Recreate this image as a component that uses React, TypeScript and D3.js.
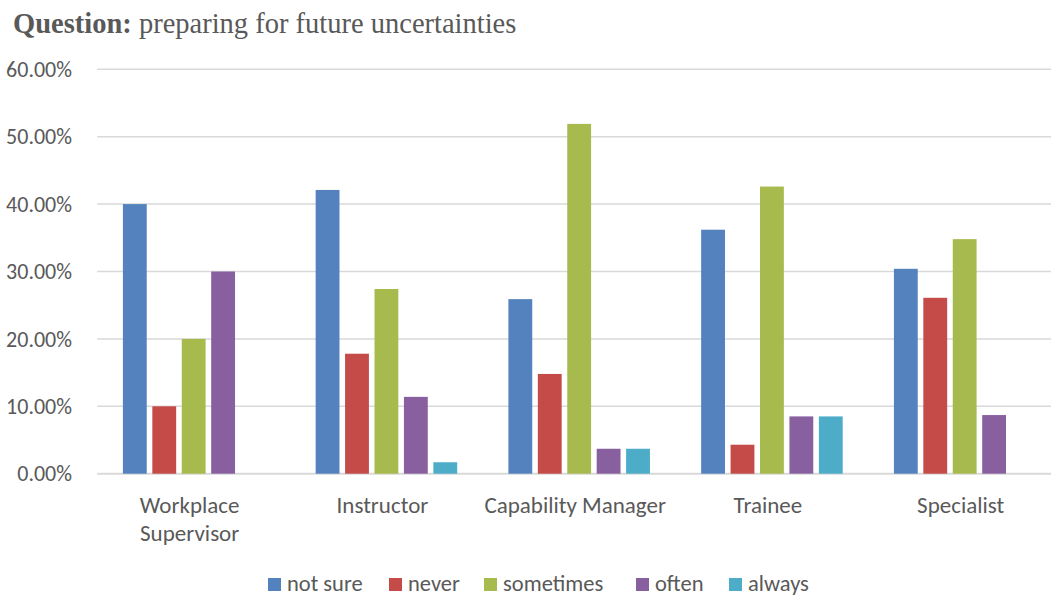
import React from "react";
import * as d3 from "d3";

// Survey responses per role, in percent
const categories = ["Workplace Supervisor", "Instructor", "Capability Manager", "Trainee", "Specialist"];
const categoryLines = [["Workplace", "Supervisor"], ["Instructor"], ["Capability Manager"], ["Trainee"], ["Specialist"]];
const seriesNames = ["not sure", "never", "sometimes", "often", "always"];
const notSure = [40.0, 42.1, 25.9, 36.2, 30.4];
const never = [10.0, 17.8, 14.8, 4.3, 26.1];
const sometimes = [20.0, 27.4, 51.9, 42.6, 34.8];
const often = [30.0, 11.4, 3.7, 8.5, 8.7];
const always = [0, 1.7, 3.7, 8.5, 0];
const yTicks = [0, 10, 20, 30, 40, 50, 60];

const seriesValues = [notSure, never, sometimes, often, always];
const colors = ["#5382be", "#c44b48", "#a7ba4e", "#8860a0", "#4dacc8"];

const W = 1051;
const H = 596;
const plotLeft = 97.3;
const bandStep = 192.75;
const textColor = "#595959";
const sansFont = "Carlito, Lato, sans-serif";

export default function App() {
  const x0 = d3
    .scaleBand<string>()
    .domain(categories)
    .range([plotLeft, plotLeft + bandStep * categories.length])
    .padding(0);
  const x1 = d3
    .scaleBand<string>()
    .domain(seriesNames)
    .range([0, x0.bandwidth()])
    .paddingInner(0.19)
    .paddingOuter(0.87);
  const y = d3.scaleLinear().domain([0, 60]).range([473.7, 69.3]);
  const fmt = (v: number) => d3.format(".2f")(v) + "%";

  const legendX = [268, 389, 484, 636, 729];

  return (
    <svg
      width={W}
      height={H}
      style={{ position: "absolute", left: 0, top: 0, display: "block", background: "#fff" }}
    >
      <text x={13} y={33} fontFamily="'Liberation Serif', 'Times New Roman', serif" fontSize={28.5} fill={textColor}>
        <tspan fontWeight="bold">Question:</tspan>
        <tspan> preparing for future uncertainties</tspan>
      </text>

      {yTicks.map((t) => (
        <g key={t}>
          <line
            x1={plotLeft}
            x2={W}
            y1={y(t)}
            y2={y(t)}
            stroke="#d9d9d9"
            strokeWidth={t === 0 ? 2 : 1.5}
          />
          <text
            x={72}
            y={y(t)}
            dy="0.35em"
            textAnchor="end"
            fontFamily={sansFont}
            fontSize={22}
            fill={textColor}
          >
            {fmt(t)}
          </text>
        </g>
      ))}

      {categories.map((c, ci) => (
        <g key={c} transform={`translate(${x0(c)},0)`}>
          {seriesNames.map((s, si) => {
            const v = seriesValues[si][ci];
            if (!v) return null;
            return (
              <rect
                key={s}
                x={x1(s)}
                y={y(v)}
                width={x1.bandwidth()}
                height={y(0) - y(v)}
                fill={colors[si]}
              />
            );
          })}
          <text
            x={x0.bandwidth() / 2 - 4}
            y={513}
            textAnchor="middle"
            fontFamily={sansFont}
            fontSize={23}
            fill={textColor}
          >
            {categoryLines[ci].map((line, li) => (
              <tspan key={li} x={x0.bandwidth() / 2 - 4} dy={li === 0 ? 0 : 27.5}>
                {line}
              </tspan>
            ))}
          </text>
        </g>
      ))}

      {seriesNames.map((s, si) => (
        <g key={s} transform={`translate(${legendX[si]},0)`}>
          <rect x={0} y={578} width={13} height={13} fill={colors[si]} />
          <text x={19} y={591} fontFamily={sansFont} fontSize={22.5} fill={textColor}>
            {s}
          </text>
        </g>
      ))}
    </svg>
  );
}
